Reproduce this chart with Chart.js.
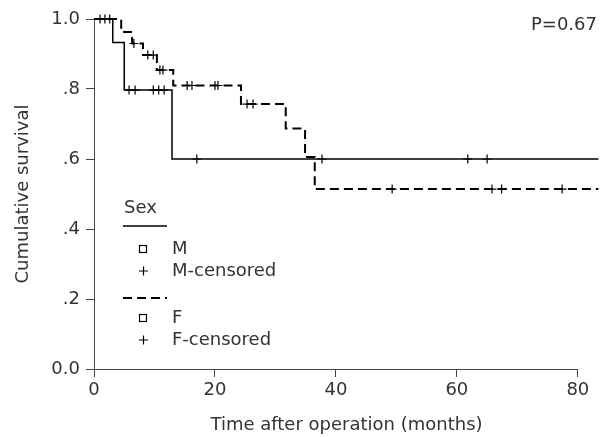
<!DOCTYPE html>
<html>
<head>
<meta charset="utf-8">
<script src="https://cdn.jsdelivr.net/npm/chart.js@4"></script>
<style>
  body { margin: 0; background: #fff; }
</style>
</head>
<body>
<canvas id="grafico" width="610" height="437"></canvas>
<script>
// Ticks
const xTickValues = [0, 20, 40, 60, 80];
const yTickValues = [0, 0.2, 0.4, 0.6, 0.8, 1.0];
const yTickLabels = ["0.0", ".2", ".4", ".6", ".8", "1.0"];

// Male (solid) - step points
const maleTimes = [0, 3.1, 5.0, 12.9, 83.4];
const maleSurv = [1, 0.933, 0.797, 0.6, 0.6];
const maleCensTimes = [1.0, 1.8, 2.6, 5.8, 6.8, 9.8, 10.7, 11.6, 17.0, 37.7, 61.8, 65.0];
const maleCensSurv = [1, 1, 1, 0.797, 0.797, 0.797, 0.797, 0.797, 0.6, 0.6, 0.6, 0.6];

// Female (dashed) - step points
const femaleTimes = [0, 4.5, 6.3, 8.1, 10.4, 13.1, 24.3, 31.7, 34.9, 36.5, 83.4];
const femaleSurv = [1, 0.963, 0.93, 0.897, 0.854, 0.81, 0.757, 0.687, 0.606, 0.514, 0.514];
const femaleCensTimes = [6.6, 8.9, 9.8, 10.9, 11.4, 15.4, 16.2, 20.0, 20.5, 25.3, 26.3, 49.3, 65.8, 67.4, 77.4];
const femaleCensSurv = [0.93, 0.897, 0.897, 0.854, 0.854, 0.81, 0.81, 0.81, 0.81, 0.757, 0.757, 0.514, 0.514, 0.514, 0.514];

// Texts
const xTitle = "Time after operation (months)";
const yTitle = "Cumulative survival";
const pText = "P=0.67";
const legendTitle = "Sex";
const legendLabels = ["M", "M-censored", "F", "F-censored"];

const FONT = "'DejaVu Sans', 'Liberation Sans', sans-serif";
const TXT = "#333";

const toPts = (xs, ys) => xs.map((x, i) => ({ x: x, y: ys[i] }));

// Plugin: axis lines, P value and legend
const extras = {
  id: "extras",
  beforeDatasetsDraw(chart) {
    const { ctx, scales: { x, y } } = chart;
    const x0 = Math.round(x.getPixelForValue(0)) + 0.5;
    const y0 = Math.round(y.getPixelForValue(0)) + 0.5;
    ctx.save();
    ctx.strokeStyle = "#444";
    ctx.lineWidth = 1;
    ctx.beginPath();
    ctx.moveTo(x0, y.getPixelForValue(1));
    ctx.lineTo(x0, y0);
    ctx.lineTo(x.getPixelForValue(80), y0);
    ctx.stroke();
    ctx.restore();
  },
  afterDraw(chart) {
    const { ctx } = chart;
    ctx.save();
    ctx.font = "18px " + FONT;
    ctx.fillStyle = TXT;
    ctx.textBaseline = "middle";

    // P value
    ctx.textAlign = "right";
    ctx.fillText(pText, 597, 25);

    // Legenda
    ctx.textAlign = "left";
    ctx.fillText(legendTitle, 124, 208);
    ctx.strokeStyle = "#000";
    ctx.lineWidth = 1.5;
    ctx.beginPath();
    ctx.moveTo(123, 226);
    ctx.lineTo(167, 226);
    ctx.stroke();

    ctx.setLineDash([9, 5]);
    ctx.lineWidth = 2;
    ctx.beginPath();
    ctx.moveTo(123, 298);
    ctx.lineTo(167, 298);
    ctx.stroke();
    ctx.setLineDash([]);

    const rows = [249, 271, 318, 340];
    ctx.lineWidth = 1.2;
    rows.forEach((ry, i) => {
      if (i % 2 === 0) {
        ctx.strokeRect(139.5, ry - 3.5, 7, 7);
      } else {
        ctx.beginPath();
        ctx.moveTo(139, ry); ctx.lineTo(148, ry);
        ctx.moveTo(143.5, ry - 4.5); ctx.lineTo(143.5, ry + 4.5);
        ctx.stroke();
      }
      ctx.fillText(legendLabels[i], 172, ry);
    });
    ctx.restore();
  }
};

const ctx = document.getElementById("grafico").getContext("2d");
new Chart(ctx, {
  type: "line",
  data: {
    datasets: [
      {
        label: "M",
        data: toPts(maleTimes, maleSurv),
        borderColor: "#000",
        borderWidth: 1.5,
        stepped: true,
        pointRadius: 0,
        fill: false,
        clip: false
      },
      {
        label: "F",
        data: toPts(femaleTimes, femaleSurv),
        borderColor: "#000",
        borderWidth: 2,
        borderDash: [9, 5],
        stepped: true,
        pointRadius: 0,
        fill: false,
        clip: false
      },
      {
        label: "M-censored",
        data: toPts(maleCensTimes, maleCensSurv),
        showLine: false,
        pointStyle: "cross",
        pointRadius: 4.5,
        pointBorderWidth: 1.2,
        pointBorderColor: "#000",
        clip: false
      },
      {
        label: "F-censored",
        data: toPts(femaleCensTimes, femaleCensSurv),
        showLine: false,
        pointStyle: "cross",
        pointRadius: 4.5,
        pointBorderWidth: 1.2,
        pointBorderColor: "#000",
        clip: false
      }
    ]
  },
  options: {
    responsive: false,
    animation: false,
    layout: { padding: { top: 19, right: 11, left: 0, bottom: 0 } },
    plugins: {
      legend: { display: false },
      tooltip: { enabled: false }
    },
    scales: {
      x: {
        type: "linear",
        min: 0,
        max: 83.5,
        afterBuildTicks: s => { s.ticks = xTickValues.map(v => ({ value: v })); },
        afterFit: s => { s.height = 68; },
        border: { display: false },
        grid: { drawOnChartArea: false, drawTicks: true, tickLength: 8, color: "#444" },
        ticks: {
          color: TXT,
          font: { family: FONT, size: 18 },
          padding: 3,
          maxRotation: 0,
          autoSkip: false
        },
        title: {
          display: true,
          text: xTitle,
          color: TXT,
          font: { family: FONT, size: 18 },
          padding: { top: 0, bottom: 1 }
        }
      },
      y: {
        type: "linear",
        min: 0,
        max: 1,
        afterBuildTicks: s => { s.ticks = yTickValues.map(v => ({ value: v })); },
        afterFit: s => { s.width = 94; },
        border: { display: false },
        grid: { drawOnChartArea: false, drawTicks: true, tickLength: 8, color: "#444" },
        ticks: {
          color: TXT,
          font: { family: FONT, size: 18 },
          padding: 6,
          autoSkip: false,
          callback: (value, index) => yTickLabels[index]
        },
        title: {
          display: true,
          text: yTitle,
          color: TXT,
          font: { family: FONT, size: 18 },
          padding: { top: 13, bottom: 0 }
        }
      }
    }
  },
  plugins: [extras]
});
</script>
</body>
</html>
